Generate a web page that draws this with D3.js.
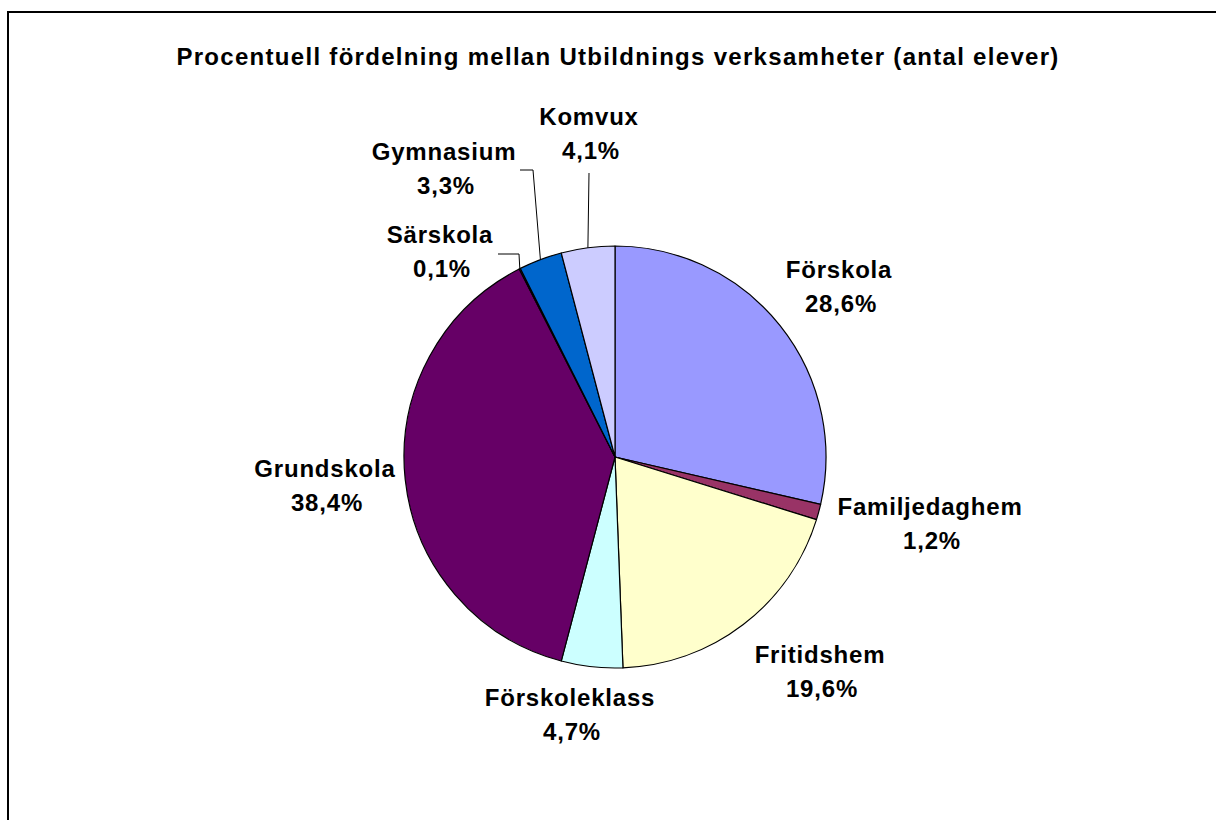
<!DOCTYPE html>
<html>
<head>
<meta charset="utf-8">
<script src="https://cdn.jsdelivr.net/npm/d3@7"></script>
<style>
html,body{margin:0;padding:0;background:#fff;overflow:hidden;}
svg{display:block;}
text{font-family:"Liberation Sans",Arial,sans-serif;font-weight:bold;fill:#000;}
</style>
</head>
<body>
<svg id="chart" width="1216" height="820"></svg>
<script>
const title = "Procentuell fördelning mellan Utbildnings verksamheter (antal elever)";
const categories = ["Förskola","Familjedaghem","Fritidshem","Förskoleklass","Grundskola","Särskola","Gymnasium","Komvux"];
const values = [28.6, 1.2, 19.6, 4.7, 38.4, 0.1, 3.3, 4.1];
const valueLabels = ["28,6%","1,2%","19,6%","4,7%","38,4%","0,1%","3,3%","4,1%"];
const colors = ["#9999FF","#993366","#FFFFCC","#CCFFFF","#660066","#FF8080","#0066CC","#CCCCFF"];

const svg = d3.select("#chart");
const cx = 615, cy = 457, R = 211;

// chart area border (extends past the viewport on right/bottom)
svg.append("rect").attr("x", 8).attr("y", 12).attr("width", 1400).attr("height", 1000)
  .attr("fill", "#fff").attr("stroke", "#000").attr("stroke-width", 2);

svg.append("text").attr("x", 618).attr("y", 65).attr("text-anchor", "middle")
  .style("font-size", "24px").style("letter-spacing", "1.3px").text(title);

const data = categories.map((c, i) => ({cat: c, value: values[i], label: valueLabels[i], color: colors[i]}));
const pie = d3.pie().value(d => d.value).sort(null);
const arcs = pie(data);
const arc = d3.arc().innerRadius(0).outerRadius(R);

const g = svg.append("g").attr("transform", `translate(${cx},${cy})`);
g.selectAll("path.slice").data(arcs).join("path")
  .attr("class", "slice")
  .attr("d", arc)
  .attr("fill", d => d.data.color)
  .attr("stroke", "#000").attr("stroke-width", 1.2).attr("stroke-linejoin", "round");

// label layout (offsets relative to the pie centre): x centre, baseline of first line
const labelLayout = {
  "Förskola":      {x: 224, y: -179},
  "Familjedaghem": {x: 315, y: 58},
  "Fritidshem":    {x: 205, y: 206},
  "Förskoleklass": {x: -45, y: 249},
  "Grundskola":    {x: -290, y: 20},
  "Särskola":      {x: -175, y: -214, leader: [[-117, -203], [-96, -203]]},
  "Gymnasium":     {x: -171, y: -297, leader: [[-95, -287], [-82, -287]]},
  "Komvux":        {x: -26, y: -332, leader: [[-26, -284]]}
};
const lineGap = 34;

// leader lines from label to slice edge
arcs.forEach(a => {
  const L = labelLayout[a.data.cat];
  if (!L.leader) return;
  const mid = (a.startAngle + a.endAngle) / 2;
  const end = [R * Math.sin(mid), -R * Math.cos(mid)];
  g.append("path").attr("d", d3.line()(L.leader.concat([end])))
    .attr("fill", "none").attr("stroke", "#000").attr("stroke-width", 1);
});

const labels = g.selectAll("g.lab").data(arcs).join("g").attr("class", "lab");
labels.append("text")
  .attr("x", d => labelLayout[d.data.cat].x)
  .attr("y", d => labelLayout[d.data.cat].y)
  .attr("text-anchor", "middle").style("font-size", "24px").style("letter-spacing", "0.8px")
  .text(d => d.data.cat);
labels.append("text")
  .attr("x", d => labelLayout[d.data.cat].x + 2)
  .attr("y", d => labelLayout[d.data.cat].y + lineGap)
  .attr("text-anchor", "middle").style("font-size", "24px").style("letter-spacing", "0.8px")
  .text(d => d.data.label);
</script>
</body>
</html>
